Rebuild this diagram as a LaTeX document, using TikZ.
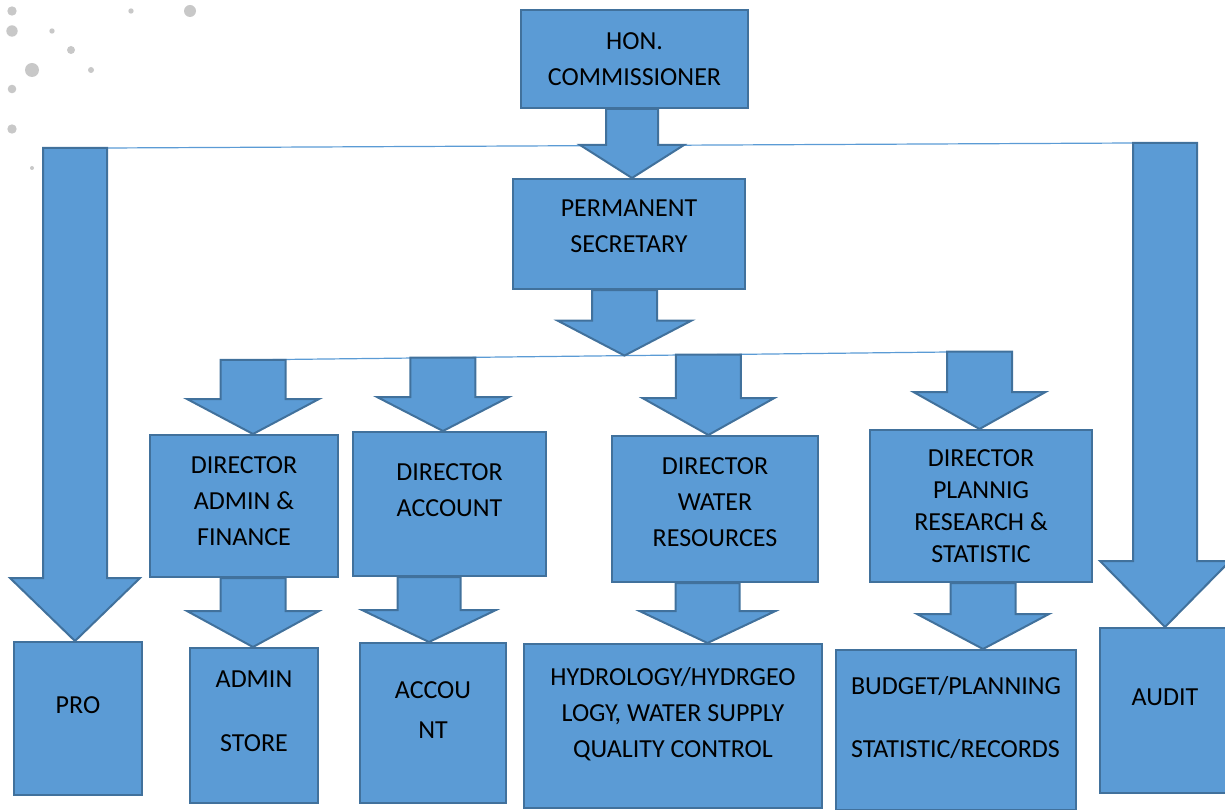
\documentclass[tikz,border=0pt]{standalone}
\usepackage{fontspec}
\setmainfont{Carlito}
\usepackage{tikz}
\usetikzlibrary{calc}
\definecolor{boxblue}{RGB}{91,155,213}
\definecolor{boxedge}{RGB}{65,113,156}
\definecolor{dotgrey}{RGB}{200,200,200}
\tikzset{
  orgbox/.style={draw=boxedge,fill=boxblue,line width=2pt,align=center,inner sep=0pt},
  barrow/.style={draw=boxedge,fill=boxblue,line width=2pt,line join=miter},
  link/.style={draw=boxblue,line width=1.2pt},
  dot/.style={fill=dotgrey},
}
% depth below the last line, lifts the text in its box
\newcommand{\padb}[1]{\rule[-#1pt]{0pt}{#1pt}}
% block arrow: top centre, target (gives the tip height), shaft half width, head half width, head length
\newcommand{\blockdown}[5]{%
  \draw[barrow] let \p1=(#1), \p2=(#2) in
    (\x1-#3pt,\y1) -- (\x1+#3pt,\y1) -- (\x1+#3pt,\y2+#5pt) -- (\x1+#4pt,\y2+#5pt)
    -- (\x1,\y2) -- (\x1-#4pt,\y2+#5pt) -- (\x1-#3pt,\y2+#5pt) -- cycle;}

\begin{document}
\begin{tikzpicture}[x=1pt,y=1pt,font=\fontsize{26}{36}\selectfont]
  \useasboundingbox (0,0) rectangle (1225,-810);

  % --- grey dots ------------------------------------------------------------
  \foreach \x/\y/\r in {12/11/4.7,131/11/2.7,190/11/6,12/31/5.7,52/31/2.7,71/50/4,
                        32/70/7,91/70/3,12/89/4.3,12/129/4.7,32/168/2}
    \fill[dot] (\x,-\y) circle (\r);

  % --- connecting lines -----------------------------------------------------
  \coordinate (l1a) at (107,-148);
  \coordinate (l1b) at (1133,-143);
  \coordinate (l2a) at (237,-360);
  \coordinate (l2b) at (948,-352);
  \draw[link] (l1a) -- (l1b);
  \draw[link] (l2a) -- (l2b);

  % --- top ------------------------------------------------------------------
  \node[orgbox,minimum width=227,minimum height=98] (hon) at (634.5,-59)
        {HON.\\COMMISSIONER};
  \node[orgbox,minimum width=232,minimum height=110] (perm) at (629,-234)
        {PERMANENT\\SECRETARY\padb{16}};

  % --- directors ------------------------------------------------------------
  \node[orgbox,minimum width=188,minimum height=142] (dadm) at (244,-506)
        {DIRECTOR\\ADMIN \&\\FINANCE\padb{10}};
  \node[orgbox,minimum width=193,minimum height=144] (dacc) at (449.5,-504)
        {DIRECTOR\\ACCOUNT\padb{27}};
  \node[orgbox,minimum width=206,minimum height=146] (dwat) at (715,-509)
        {DIRECTOR\\WATER\\RESOURCES\padb{14}};
  \node[orgbox,minimum width=222,minimum height=152,font=\fontsize{26}{32}\selectfont]
        (dpln) at (981,-506) {DIRECTOR\\PLANNIG\\RESEARCH \&\\STATISTIC};

  % --- units ----------------------------------------------------------------
  \node[orgbox,minimum width=128,minimum height=153] (pro) at (78,-718.5) {PRO\padb{27}};
  \node[orgbox,minimum width=128,minimum height=155] (admst) at (254,-725.5)
        {ADMIN\\[28pt]STORE\padb{29}};
  \node[orgbox,minimum width=146,minimum height=160] (acc) at (433,-723)
        {ACCOU\\[4pt]NT\padb{26}};
  \node[orgbox,minimum width=298,minimum height=164] (hyd) at (673,-726)
        {HYDROLOGY/HYDRGEO\\LOGY, WATER SUPPLY\\QUALITY CONTROL\padb{28}};
  \node[orgbox,minimum width=240,minimum height=160,align=left] (bud) at (956,-730)
        {BUDGET/PLANNING\\[27pt]STATISTIC/RECORDS\padb{27}};
  \node[orgbox,minimum width=130,minimum height=165] (aud) at (1165,-710.5) {AUDIT\padb{27}};

  % --- block arrows ---------------------------------------------------------
  \blockdown{$(hon.south)+(-2.5,0)$}{perm.north}{26}{52}{33}
  \blockdown{$(perm.south)+(-4.5,0)$}{$(l2a)!(perm.south)!(l2b)$}{32.5}{67}{35}
  \blockdown{$(pro.north |- l1a)+(-3,0)$}{pro.north}{32}{65}{63}
  \blockdown{aud.north |- l1b}{aud.north}{32}{65}{66}

  \blockdown{$(l2a)!0.0225!(l2b)$}{dadm.north}{32.5}{66}{35}
  \blockdown{$(l2a)!0.2897!(l2b)$}{dacc.north}{32.5}{66}{34}
  \blockdown{$(l2a)!0.663!(l2b)$}{dwat.north}{32.5}{66}{37}
  \blockdown{$(l2a)!1.0443!(l2b)$}{dpln.north}{32.5}{66}{37}

  \blockdown{$(dadm.south)+(9,0)$}{admst.north}{32.5}{66}{36}
  \blockdown{$(dacc.south)+(-20.5,0)$}{acc.north}{31.5}{67}{32}
  \blockdown{$(dwat.south)+(-7.5,0)$}{hyd.north}{32}{68}{32}
  \blockdown{$(dpln.south)+(2,0)$}{bud.north}{32.5}{66}{35}
\end{tikzpicture}
\end{document}
